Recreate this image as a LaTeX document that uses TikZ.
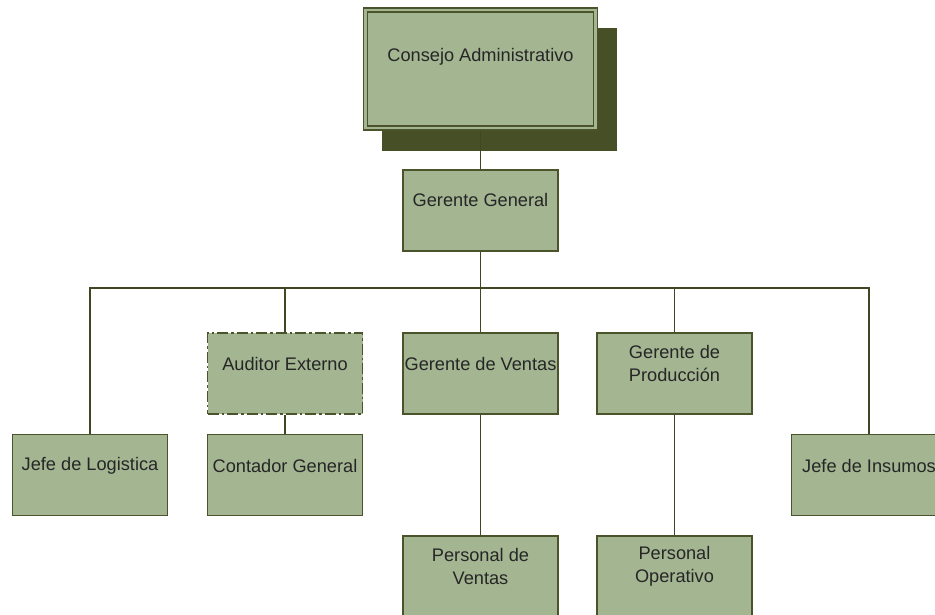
\documentclass[tikz,border=0pt]{standalone}
\usepackage{fontspec}
\setmainfont{Liberation Sans}
\definecolor{boxfill}{HTML}{A4B592}
\definecolor{boxline}{HTML}{4A5329}
\definecolor{shadowc}{HTML}{474F26}
\definecolor{txt}{HTML}{262626}
\tikzset{
  orgbox/.style={draw=boxline, line width=1.6pt, fill=boxfill, rectangle, minimum width=155pt, minimum height=81pt, inner sep=0pt},
  lbl/.style={text=txt, font=\fontsize{18.2}{23}\selectfont, align=center, inner sep=0pt, anchor=center},
  conn/.style={draw=boxline!85!black, line width=1.3pt},
}
\begin{document}
\begin{tikzpicture}[x=1pt,y=-1pt]
\useasboundingbox (0,0) rectangle (935,615);
% shadow + consejo
\fill[shadowc] (382,28) rectangle (617,151);
\node[orgbox, minimum width=234pt, minimum height=122pt] (ca) at (480.5,69) {};
\draw[boxline, line width=1.5pt] ([xshift=5pt,yshift=-5pt]ca.north west) rectangle ([xshift=-5pt,yshift=5pt]ca.south east);
\node[lbl] (tca) at (480.5,57) {Consejo Administrativo};
% gerente general
\node[orgbox] (gg) at (480.5,210.5) {};
\node[lbl] at (480.5,199.5) {Gerente General};
% bus
\coordinate (bus) at (480.5,288);
% second row
\node[orgbox, dash pattern=on 11pt off 3pt on 2.5pt off 3pt] (ae) at (285,373.5) {};
\node[lbl] at (285,363.5) {Auditor Externo};
\node[orgbox] (gv) at (480.5,373.5) {};
\node[lbl] at (480.5,363.5) {Gerente de Ventas};
\node[orgbox] (gp) at (674.5,373.5) {};
\node[lbl] at (674.5,363.5) {Gerente de\\Producción};
% third row
\node[orgbox] (jl) at (90,475) {};
\node[lbl] at (90,465.5) {Jefe de Logistica};
\node[orgbox] (cg) at (285,475) {};
\node[lbl] at (285,465.5) {Contador General};
\node[orgbox] (ji) at (869,475) {};
\node[lbl] at (869,465.5) {Jefe de Insumos};
% fourth row
\node[orgbox] (pv) at (480.5,576.5) {};
\node[lbl] at (480.5,566.5) {Personal de\\Ventas};
\node[orgbox] (po) at (674.5,576.5) {};
\node[lbl] at (674.5,566.5) {Personal\\Operativo};
% connectors
\draw[conn] (ca.south) -- (gg.north);
\draw[conn] (gg.south) -- (bus);
\draw[conn] (jl.north) |- (bus);
\draw[conn] (ji.north) |- (bus);
\draw[conn] (ae.north) -- (ae.north |- bus);
\draw[conn] (gv.north) -- (gv.north |- bus);
\draw[conn] (gp.north) -- (gp.north |- bus);
\draw[conn] (ae.south) -- (cg.north);
\draw[conn] (gv.south) -- (pv.north);
\draw[conn] (gp.south) -- (po.north);
\end{tikzpicture}
\end{document}
